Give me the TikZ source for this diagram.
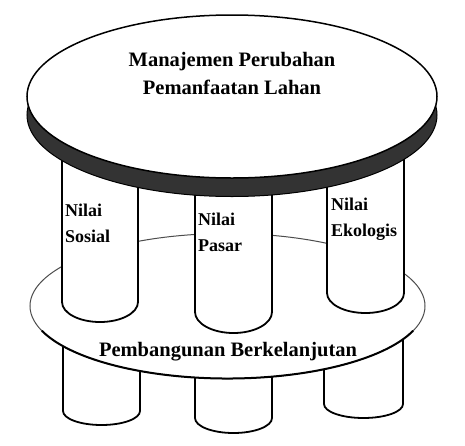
\documentclass[tikz,border=0pt]{standalone}
\usepackage{fontspec}
\setmainfont{Liberation Serif}
\usetikzlibrary{positioning}

\begin{document}
\begin{tikzpicture}[
  x=1pt, y=-1pt,
  pilar/.style={draw, line width=1.8pt, fill=white},
  lbl/.style={anchor=north west, inner sep=0pt, align=left, font=\fontsize{18}{26}\selectfont\bfseries},
  judul/.style={align=center, inner sep=0pt, font=\fontsize{20.5}{28}\selectfont\bfseries}
]
\useasboundingbox (0,0) rectangle (465,445);
\coordinate (atas) at (232,96.5);
\coordinate (rim) at (232,115);
\coordinate (bawah) at (227.5,306);
\draw[pilar] (63,300) -- (63,411) arc[start angle=180, end angle=360, x radius=38.5pt, y radius=14pt] -- (140,300);
\draw[pilar] (195,300) -- (195,418) arc[start angle=180, end angle=360, x radius=38.5pt, y radius=15pt] -- (272,300);
\draw[pilar] (324,300) -- (324,404) arc[start angle=180, end angle=360, x radius=39.5pt, y radius=14pt] -- (403,300);
\draw[fill=white, draw=black!70, line width=1pt] (bawah) ellipse[x radius=197.5pt, y radius=72.5pt];
\draw[line width=2pt] (bawah) ++(200:197.5pt and 72.5pt) arc[start angle=200, end angle=340, x radius=197.5pt, y radius=72.5pt];
\draw[pilar] (62,150) -- (62,302) arc[start angle=180, end angle=360, x radius=38pt, y radius=20pt] -- (138,150);
\draw[pilar] (195,150) -- (195,312) arc[start angle=180, end angle=360, x radius=38.5pt, y radius=21pt] -- (272,150);
\draw[pilar] (327,150) -- (327,293) arc[start angle=180, end angle=360, x radius=38.5pt, y radius=20pt] -- (404,150);
\draw[fill=black!80, line width=1pt] (rim) ellipse[x radius=205pt, y radius=81.5pt];
\draw[fill=white, line width=1.5pt] (atas) ellipse[x radius=205pt, y radius=81.5pt];
\node[judul] (manajemen) at (232,73) {Manajemen Perubahan\\Pemanfaatan Lahan};
\node[lbl] (sosial) at (65,203.7) {Nilai\\Sosial};
\node[lbl] (pasar) at (198,212.7) {Nilai\\Pasar};
\node[lbl] (ekologis) at (331,197.7) {Nilai\\Ekologis};
\node[judul, anchor=base] (pembangunan) at (228,356) {Pembangunan Berkelanjutan};
\end{tikzpicture}
\end{document}
